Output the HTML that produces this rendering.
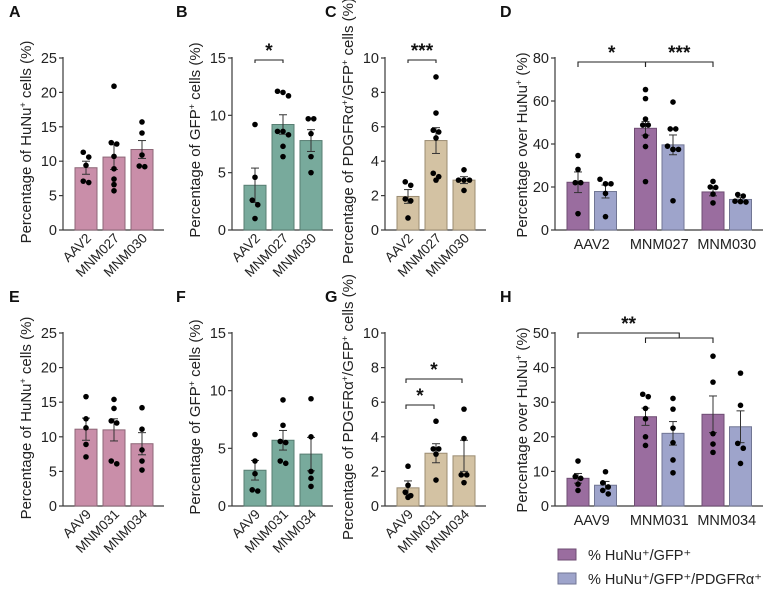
<!DOCTYPE html>
<html><head><meta charset="utf-8">
<style>
html,body{margin:0;padding:0;background:#fff;}
svg{display:block;font-family:"Liberation Sans",Arial,sans-serif;}
</style></head>
<body>
<svg id="fig" width="767" height="590" viewBox="0 0 767 590" xmlns="http://www.w3.org/2000/svg"></svg>
<script>
// ---------- DATA ----------
const catsTop = ['AAV2','MNM027','MNM030'];
const catsBot = ['AAV9','MNM031','MNM034'];

const dotsA = [[11.3,10.6,9.4,6.9,7.1],[20.9,12.7,12.5,10.7,8.9,7.4,6.6,5.7],[15.7,14.1,10.9,9.2,9.3]];
const meanA = [9.05,10.6,11.7];
const semA  = [0.95,1.8,1.3];

const dotsB = [[9.2,4.6,2.6,2.2,1.0],[12.0,12.1,11.7,8.6,8.6,8.3,7.3,6.4],[9.7,9.7,8.4,6.4,5.0]];
const meanB = [3.9,9.2,7.8];
const semB  = [1.5,0.85,0.95];

const dotsC = [[2.8,2.6,1.8,1.7,0.7],[8.9,6.8,5.8,5.7,5.35,3.3,3.1,2.9],[3.5,2.9,2.9,2.9,2.3]];
const meanC = [1.95,5.2,2.9];
const semC  = [0.4,0.75,0.2];

const dotsE = [[15.8,12.6,11.3,8.9,7.1],[15.4,14.1,12.0,12.3,6.1,6.5],[14.2,11.1,8.1,6.5,5.2]];
const meanE = [11.1,11.0,9.0];
const semE  = [1.6,1.6,1.6];

const dotsF = [[6.2,3.9,2.8,1.3,1.4],[9.2,7.0,5.5,5.6,3.7,3.9],[9.3,6.0,3.0,2.4,1.7]];
const meanF = [3.1,5.7,4.5];
const semF  = [0.85,0.85,1.45];

const dotsG = [[2.3,1.2,0.8,0.6,0.5],[4.9,3.3,3.3,3.0,1.5],[5.6,3.9,1.8,1.8,1.35]];
const meanG = [1.05,3.05,2.9];
const semG  = [0.4,0.55,0.9];

const dotsDp = [[34.6,28.2,22,22,7.6],[65.3,61.1,51.6,48.8,48.8,43.7,38.8,22.5],[22.6,20,19.8,16.7,12.6]];
const meanDp = [22.2,47.3,17.7];
const semDp  = [4.8,3.2,1.8];
const dotsDl = [[23.6,21.5,21.5,17.0,6.2],[59.5,47,47,39,37.5,37.5,37.5,13.6],[16.5,15.8,13.4,13.2,13.0]];
const meanDl = [17.9,39.6,14.2];
const semDl  = [3.0,4.6,0.8];

const dotsHp = [[13,8.5,8,6.3,4.5],[31.6,32.3,28.2,25.2,20,17.5],[43.3,35.8,20.9,17.9,15.5]];
const meanHp = [8.0,25.8,26.5];
const semHp  = [1.4,2.5,5.3];
const dotsHl = [[9.9,6.7,5.5,4.5,3.5],[31.1,28,22.5,18.3,13.3,9.6],[38.4,29.1,18.1,16.7,12.3]];
const meanHl = [6.0,21.0,22.9];
const semHl  = [1.1,3.4,4.6];

const ticksA = [0,5,10,15,20,25];
const ticksB = [0,5,10,15];
const ticksC = [0,2,4,6,8,10];
const ticksD = [0,20,40,60,80];
const ticksH = [0,10,20,30,40,50];

// ---------- DRAWING ----------
const NS='http://www.w3.org/2000/svg';
const svg=document.getElementById('fig');
function mk(tag,attrs,parent){const e=document.createElementNS(NS,tag);for(const k in attrs)e.setAttribute(k,attrs[k]);(parent||svg).appendChild(e);return e;}
const AX='#3a3a3a';

function yScale(y0,y1,max){return v=>y0-(v/max)*(y0-y1);}

function jitter(vals,sy){
  const idx=vals.map((v,i)=>i).sort((a,b)=>vals[b]-vals[a]);
  const off=new Array(vals.length).fill(0);
  let g=[];
  const flush=()=>{const n=g.length;g.forEach((id,k)=>{off[id]=(k-(n-1)/2)*5.5;});g=[];};
  idx.forEach(id=>{ if(g.length && Math.abs(sy(vals[g[0]])-sy(vals[id]))>5) flush(); g.push(id); if(g.length===3) flush();});
  flush();
  return off;
}

function axis(g,ax,y0,y1,xEnd,ticks,max,sy){
  const a=mk('line',{x1:ax,y1:y1-1,x2:ax,y2:y0,stroke:AX,'stroke-width':1.2},g);
  
  const b=mk('line',{x1:ax,y1:y0,x2:xEnd,y2:y0,stroke:AX,'stroke-width':1.2},g);
  
  ticks.forEach(t=>{
    const y=sy(t);
    mk('line',{x1:ax-4,y1:y,x2:ax,y2:y,stroke:AX,'stroke-width':1.2},g);
    const tx=mk('text',{x:ax-6,y:y+5,'text-anchor':'end','font-size':14.5,fill:'#222'},g);
    
    
    tx.textContent=t;
  });
}

function ytitle(g,x,cy,parts){
  const t=mk('text',{transform:`translate(${x},${cy}) rotate(-90)`,'text-anchor':'middle','font-size':15,fill:'#222'},g);
  
  
  parts.forEach(p=>{const s=mk('tspan',p[1]?{'baseline-shift':'super','font-size':9}:{},t);s.textContent=p[0];});
}

function bar(g,cx,w,mean,sem,dots,sy,y0,fill,stroke,name){
  const r=mk('rect',{x:cx-w/2,y:sy(mean),width:w,height:y0-sy(mean),fill:fill,stroke:stroke,'stroke-width':1},g);
  
  
  const eg=mk('g',{stroke:'#333','stroke-width':1},g);
  
  
  const yt=sy(mean+sem), yb=sy(mean-sem);
  mk('line',{x1:cx,y1:yt,x2:cx,y2:yb},eg);
  mk('line',{x1:cx-4,y1:yt,x2:cx+4,y2:yt},eg);
  mk('line',{x1:cx-4,y1:yb,x2:cx+4,y2:yb},eg);
  const off=jitter(dots,sy);
  dots.forEach((v,i)=>{
    const c=mk('circle',{cx:cx+off[i],cy:sy(v),r:2.8,fill:'#000'},g);
    
    
  });
}

function panelLabel(x,y,t){
  const e=mk('text',{x:x,y:y,'font-size':16,'font-weight':'bold',fill:'#111'});
  
  
  e.textContent=t;
}

function simplePanel(name,ax,y0,y1,max,ticks,cats,means,sems,dots,fill,stroke,titleX,titleCy,titleParts){
  const g=mk('g',{});
  
  
  const sy=yScale(y0,y1,max);
  axis(g,ax,y0,y1,ax+101,ticks,max,sy);
  ytitle(g,titleX,titleCy,titleParts);
  cats.forEach((c,i)=>{
    const cx=ax+23+i*28;
    bar(g,cx,22,means[i],sems[i],dots[i],sy,y0,fill,stroke,'bar-'+c.toLowerCase());
    const t=mk('text',{transform:`translate(${cx+6},${y0+9}) rotate(-45)`,'text-anchor':'end','font-size':13.5,fill:'#222'},g);
    
    
    t.textContent=c;
  });
  return {g,sy,cx:i=>ax+23+i*28};
}

function bracket(g,x1,x2,y,drop,label,ly){
  const p=mk('path',{d:`M${x1},${y+drop} V${y} H${x2} V${y+drop}`,fill:'none',stroke:'#222','stroke-width':1.1},g);
  
  
  const t=mk('text',{x:(x1+x2)/2,y:ly,'text-anchor':'middle','font-size':19,'font-weight':'bold',fill:'#111'},g);
  
  
  t.textContent=label;
}

const PINK='#c98ea9',PINKS='#8d6677',TEAL='#78aa9c',TEALS='#577d72',TAN='#d3c2a3',TANS='#9b8c72',PUR='#9a6d9f',PURS='#6f4d73',LAV='#9ea4cb',LAVS='#717694';

panelLabel(9,17,'A');panelLabel(176,17,'B');panelLabel(325,17,'C');panelLabel(500,17,'D');
panelLabel(9,302,'E');panelLabel(176,302,'F');panelLabel(325,302,'G');panelLabel(500,302,'H');

simplePanel('panel-a',63,230,58,25,ticksA,catsTop,meanA,semA,dotsA,PINK,PINKS,31,142,[['Percentage of HuNu'],['+',1],[' cells (%)']]);
const pB=simplePanel('panel-b',232,230,58,15,ticksB,catsTop,meanB,semB,dotsB,TEAL,TEALS,200,140,[['Percentage of GFP'],['+',1],[' cells (%)']]);
bracket(pB.g,pB.cx(0),pB.cx(1),60,3,'*',57);
const pC=simplePanel('panel-c',385,230,58,10,ticksC,catsTop,meanC,semC,dotsC,TAN,TANS,353,131,[['Percentage of PDGFR\u03B1'],['+',1],['/GFP'],['+',1],[' cells (%)']]);
bracket(pC.g,pC.cx(0),pC.cx(1),60,3,'***',57);

simplePanel('panel-e',63,506,333,25,ticksA,catsBot,meanE,semE,dotsE,PINK,PINKS,31,418,[['Percentage of HuNu'],['+',1],[' cells (%)']]);
simplePanel('panel-f',232,506,333,15,ticksB,catsBot,meanF,semF,dotsF,TEAL,TEALS,200,417,[['Percentage of GFP'],['+',1],[' cells (%)']]);
const pG=simplePanel('panel-g',385,506,333,10,ticksC,catsBot,meanG,semG,dotsG,TAN,TANS,353,407,[['Percentage of PDGFR\u03B1'],['+',1],['/GFP'],['+',1],[' cells (%)']]);
bracket(pG.g,pG.cx(0)-2,pG.cx(1)-2,405,4,'*',402);
bracket(pG.g,pG.cx(0)-2,pG.cx(2)-2,379,4,'*',376);

function groupedPanel(name,ax,y0,y1,max,ticks,cats,mp,sp,dp,ml,sl,dl,titleCy){
  const g=mk('g',{});
  
  
  const sy=yScale(y0,y1,max);
  axis(g,ax,y0,y1,763,ticks,max,sy);
  ytitle(g,527,titleCy,[['Percentage over HuNu'],['+',1],[' (%)']]);
  const px=i=>ax+23+i*67.5;
  cats.forEach((c,i)=>{
    bar(g,px(i),22,mp[i],sp[i],dp[i],sy,y0,PUR,PURS,'bar-hunu-gfp-'+c.toLowerCase());
    bar(g,px(i)+27.5,22,ml[i],sl[i],dl[i],sy,y0,LAV,LAVS,'bar-hunu-gfp-pdgfra-'+c.toLowerCase());
    const t=mk('text',{x:px(i)+13.75,y:y0+19,'text-anchor':'middle','font-size':14.5,fill:'#222'},g);
    
    
    t.textContent=c;
  });
  return {g,sy,px};
}
const pD=groupedPanel('panel-d',555,230,58,80,ticksD,catsTop,meanDp,semDp,dotsDp,meanDl,semDl,dotsDl,145);
bracket(pD.g,pD.px(0),pD.px(1),62,5,'*',59);
bracket(pD.g,pD.px(1),pD.px(2),62,5,'***',59);

const pH=groupedPanel('panel-h',555,506,333,50,ticksH,catsBot,meanHp,semHp,dotsHp,meanHl,semHl,dotsHl,420);
(function(){
  const g=pH.g;
  const xm=(pH.px(1)+pH.px(2))/2;
  const p1=mk('path',{d:`M${pH.px(1)},343 V338 H${pH.px(2)} V343`,fill:'none',stroke:'#222','stroke-width':1.1},g);
  
  
  const p2=mk('path',{d:`M${pH.px(0)},338 V333 H${xm} V338`,fill:'none',stroke:'#222','stroke-width':1.1},g);
  
  
  const t=mk('text',{x:(pH.px(0)+xm)/2,y:330,'text-anchor':'middle','font-size':19,'font-weight':'bold',fill:'#111'},g);
  
  
  t.textContent='**';
})();

const lg=mk('g',{});


[[PUR,PURS,'% HuNu\u207A/GFP\u207A',549],[LAV,LAVS,'% HuNu\u207A/GFP\u207A/PDGFR\u03B1\u207A',573]].forEach(e=>{
  const it=mk('g',{},lg);
  
  
  mk('rect',{x:558,y:e[3],width:18,height:11,fill:e[0],stroke:e[1],'stroke-width':1},it);
  const t=mk('text',{x:588,y:e[3]+11,'font-size':14.5,fill:'#222'},it);
  t.textContent=e[2];
});
</script>
</body></html>
